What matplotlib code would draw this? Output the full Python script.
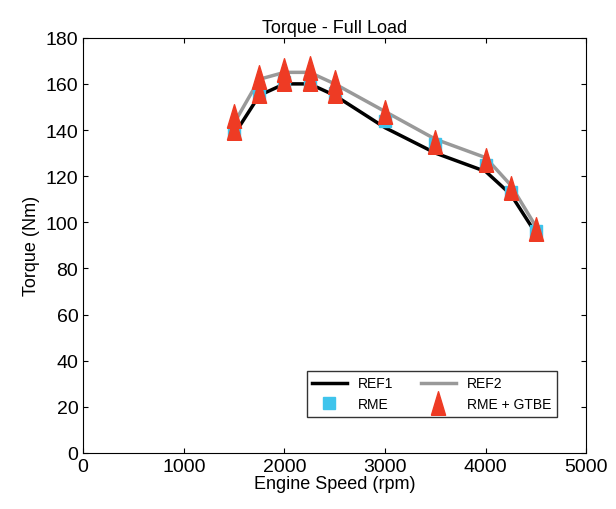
import matplotlib
matplotlib.use("Agg")
import matplotlib.pyplot as plt

# reference curves
rpm = [1500, 1750, 2000, 2250, 2500, 3000, 3500, 4000, 4250, 4500]
ref1 = [138, 155, 160, 160, 155, 141, 130, 122, 112, 95]
ref2 = [143, 162, 165, 165, 160, 148, 136, 128, 116, 98]

# measured points
rme_rpm = [1500, 1750, 2000, 2250, 2500, 3000, 3500, 4000, 4250, 4500]
rme_tq = [139, 156, 161, 161, 156, 144, 134, 125, 113, 96]
gtbe_rpm = [1500, 1500, 1750, 1750, 2000, 2000, 2250, 2250, 2500, 2500, 3000, 3500, 4000, 4250, 4500]
gtbe_tq = [141, 146, 157, 163, 162, 166, 162, 167, 157, 161, 148, 135, 127, 115, 97]

# tall narrow triangle
tri = [(-0.6, -1), (0.6, -1), (0, 1), (-0.6, -1)]

plt.rcParams['font.family'] = ['Liberation Sans', 'DejaVu Sans']
fig = plt.figure(figsize=(6.16, 5.10), dpi=100)
ax = fig.add_axes([0.135, 0.11, 0.817, 0.814])

l1, = ax.plot(rpm, ref1, color='black', lw=2.5, label='REF1')
l2, = ax.plot(rpm, ref2, color='#999999', lw=2.5, label='REF2')
l3, = ax.plot(rme_rpm, rme_tq, 's', color='#3fc4ec', ms=8, label='RME', ls='none')
l4, = ax.plot(gtbe_rpm, gtbe_tq, marker=tri, color='#ee3b24', ms=17, label='RME + GTBE', ls='none')

ax.set_xlim(0, 5000)
ax.set_ylim(0, 180)
ax.set_xticks(range(0, 5001, 1000))
ax.set_yticks(range(0, 181, 20))
ax.tick_params(labelsize=14, direction='in', top=True, right=True)
ax.set_xlabel('Engine Speed (rpm)', fontsize=13, labelpad=0)
ax.set_ylabel('Torque (Nm)', fontsize=13)
ax.set_title('Torque - Full Load', fontsize=13, pad=4)
ax.legend([l1, l3, l2, l4], ['REF1', 'RME', 'REF2', 'RME + GTBE'], ncol=2,
          loc='lower right', bbox_to_anchor=(0.955, 0.07), fontsize=10,
          frameon=True, fancybox=False, edgecolor='black', handlelength=2.5)

fig.savefig('out.png')
